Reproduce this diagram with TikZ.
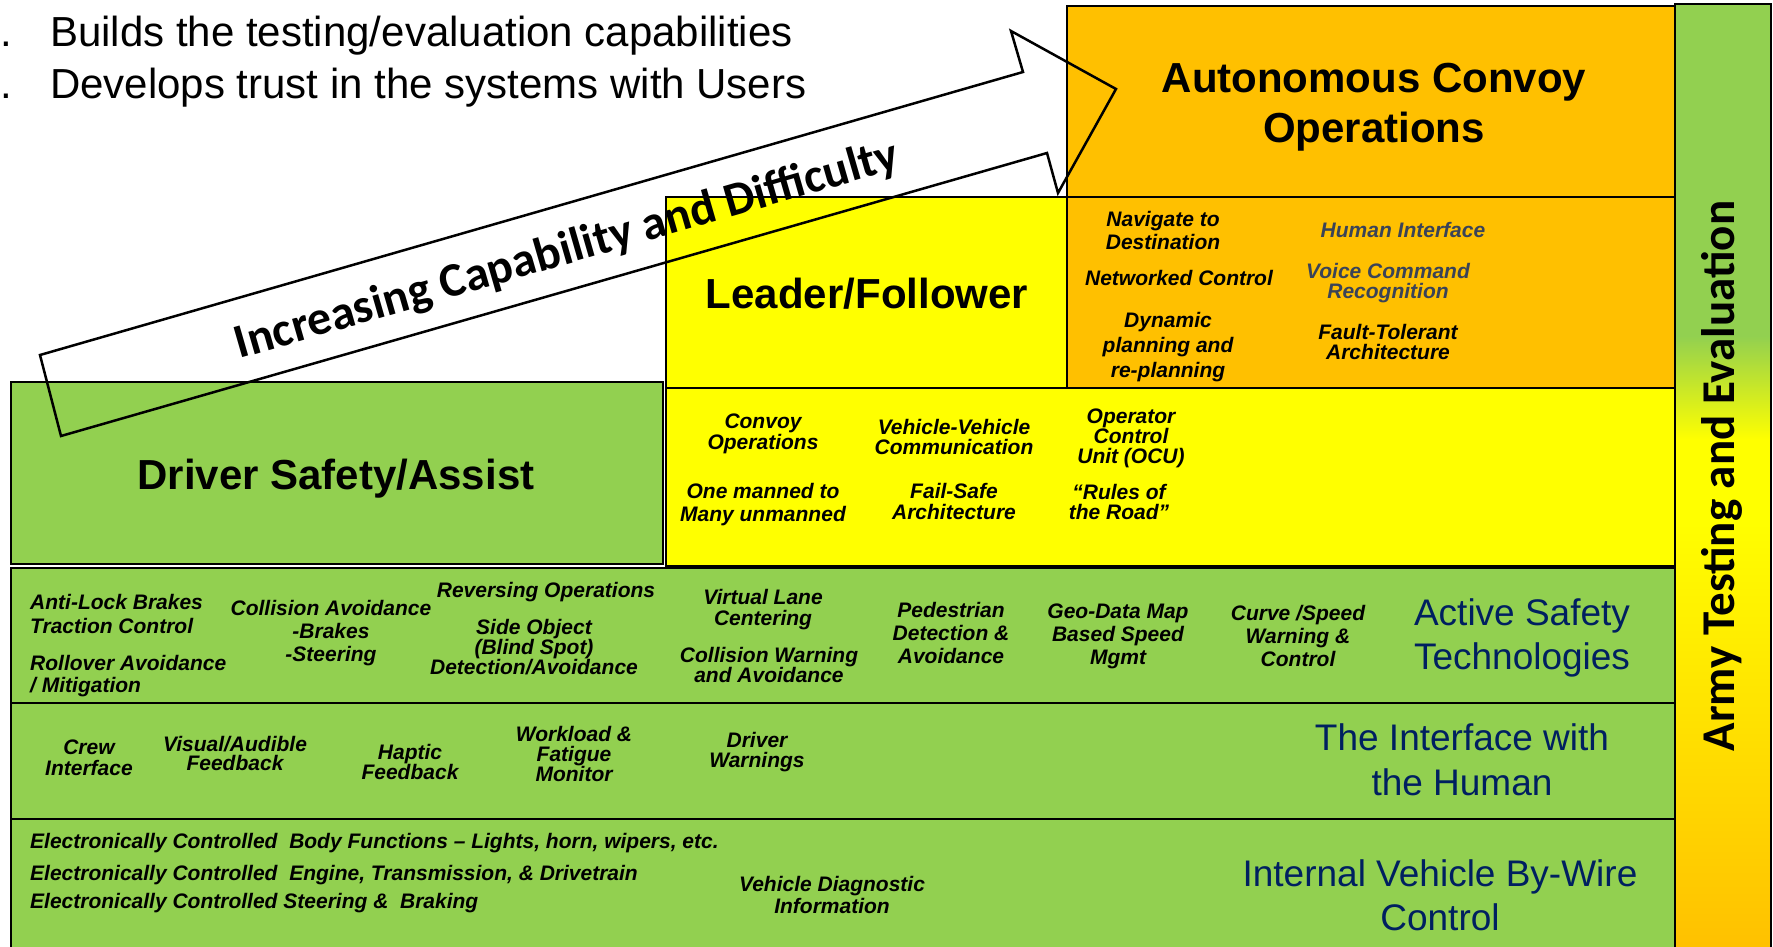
\documentclass[tikz,border=0pt]{standalone}
\usepackage{fontspec}
\setmainfont{Liberation Sans}
\newfontfamily\calibri{Carlito}
\definecolor{grn}{HTML}{92D050}
\definecolor{ylw}{HTML}{FFFF00}
\definecolor{org}{HTML}{FFC000}
\definecolor{navy}{HTML}{002060}
\definecolor{slate}{HTML}{3A4358}
\pgfdeclareverticalshading{armybar}{100bp}{color(0bp)=(org); color(25bp)=(org); color(48bp)=(ylw); color(52bp)=(ylw); color(57.5bp)=(grn); color(100bp)=(grn)}
\begin{document}
\begin{tikzpicture}[x=1pt,y=-1pt,
  box/.style={draw=black, line width=2.5pt},
  ttl/.style={font=\bfseries\fontsize{42}{50}\selectfont, align=center, inner sep=0pt},
  itm/.style={font=\bfseries\itshape\fontsize{21}{#1}\selectfont, align=center, inner sep=0pt},
  itm/.default=21,
  itml/.style={font=\bfseries\itshape\fontsize{21}{21}\selectfont, anchor=west, inner sep=0pt},
  lyr/.style={font=\fontsize{37}{#1}\selectfont, text=navy, align=center, inner sep=0pt},
  lyr/.default=44,
  hdr/.style={font=\fontsize{42}{50}\selectfont, anchor=base west, inner sep=0pt},
]
\useasboundingbox (0,0) rectangle (1773,946);
\clip (0,0) rectangle (1773,946);

% boxes
\path[box, fill=grn] (11,382) rectangle (663,564);
\path[box, fill=ylw] (666,197) rectangle (1067,388);
\path[box, fill=org] (1067,6) rectangle (1675,197);
\path[box, fill=org] (1067,197) rectangle (1675,388);
\path[box, fill=ylw] (666,388) rectangle (1675,566);
\path[box, fill=grn] (11,568) rectangle (1675,703);
\path[box, fill=grn] (11,703) rectangle (1675,819);
\path[box, fill=grn] (11,819) rectangle (1675,952);
\shadedraw[shading=armybar, draw=black, line width=2.5pt] (1675,4) rectangle (1771,952);

% header text
\node[hdr] (dot1) at (0,46) {.};
\node[hdr] (dot2) at (0,98) {.};
\node[hdr] (h1) at (50,46) {Builds the testing/evaluation capabilities};
\node[hdr] (h2) at (50,98) {Develops trust in the systems with Users};

% titles
\node[ttl] (auto) at (1374,107) {Autonomous Convoy\\Operations};
\node[ttl, anchor=base] (leader) at (867,308) {Leader/Follower};
\node[ttl, anchor=base] (driver) at (336,489) {Driver Safety/Assist};

% autonomous features
\node[itm=23] (nav) at (1163,230.5) {Navigate to\\Destination};
\node[itm] (net) at (1179,278) {Networked Control};
\node[itm=25] (dyn) at (1168,347) {Dynamic\\planning and\\re-planning};
\node[itm, text=slate] (humi) at (1403,230) {Human Interface};
\node[itm=20, text=slate] (voice) at (1388,283) {Voice Command\\Recognition};
\node[itm=20] (fault) at (1388,342) {Fault-Tolerant\\Architecture};

% leader/follower features
\node[itm] (cvy) at (763,433.5) {Convoy\\Operations};
\node[itm=20] (v2v) at (954,437) {Vehicle-Vehicle\\Communication};
\node[itm=20] (ocu) at (1131,438) {Operator\\Control\\Unit (OCU)};
\node[itm=23] (one) at (763,504.5) {One manned to\\Many unmanned};
\node[itm] (fs) at (954,501.5) {Fail-Safe\\Architecture};
\node[itm=20] (rules) at (1119,502) {“Rules of\\the Road”};

% active safety
\node[itml] (abs) at (30,602) {Anti-Lock Brakes};
\node[itml] (tc) at (30,626) {Traction Control};
\node[itml] (ro) at (30,663) {Rollover Avoidance};
\node[itml] (mit) at (30,687) {/ Mitigation};
\node[itm=23] (ca) at (331,633) {Collision Avoidance\\-Brakes\\-Steering};
\node[itm] (rev) at (546,592) {Reversing Operations};
\node[itm=20] (side) at (534,647.5) {Side Object\\(Blind Spot)\\Detection/Avoidance};
\node[itm] (vlc) at (763,609.5) {Virtual Lane\\Centering};
\node[itm=20] (cw) at (769,665) {Collision Warning\\and Avoidance};
\node[itm=23] (ped) at (951,633) {Pedestrian\\Detection \&\\Avoidance};
\node[itm=23] (geo) at (1118,636) {Geo-Data Map\\Based Speed\\Mgmt};
\node[itm=23] (curve) at (1298,636) {Curve /Speed\\Warning \&\\Control};
\node[lyr] (act) at (1522,638) {Active Safety\\Technologies};

% interface with the human
\node[itm] (crew) at (89,757.5) {Crew\\Interface};
\node[itm=19] (vis) at (235,753.5) {Visual/Audible\\Feedback};
\node[itm=20] (hap) at (410,762) {Haptic\\Feedback};
\node[itm=20] (wl) at (574,753.5) {Workload \&\\Fatigue\\Monitor};
\node[itm=20] (dw) at (757,752) {Driver\\Warnings};
\node[lyr=45] (ifh) at (1462,759.5) {The Interface with\\the Human};

% internal by-wire
\node[itml] (e1) at (30,843) {Electronically Controlled\ \ Body Functions – Lights, horn, wipers, etc.};
\node[itml] (e2) at (30,875) {Electronically Controlled\ \ Engine, Transmission, \& Drivetrain};
\node[itml] (e3) at (30,903) {Electronically Controlled Steering \&\ \ Braking};
\node[itm=22] (vd) at (832,894.5) {Vehicle Diagnostic\\Information};
\node[lyr] (ivw) at (1440,895) {Internal Vehicle By-Wire\\Control};

% army bar text
\node[font=\calibri\bfseries\fontsize{47}{47}\selectfont, rotate=90, inner sep=0pt] (army) at (1722,476) {Army Testing and Evaluation};

% big arrow
\draw[line width=2.5pt, line join=miter] (40,355) -- (1023,72) -- (1011,31) -- (1116,89) -- (1058,193) -- (1047,153) -- (61,436) -- cycle;
\node[font=\calibri\bfseries\fontsize{48}{48}\selectfont, rotate=16.1, inner sep=0pt] (incr) at (567,251) {Increasing Capability and Difficulty};
\end{tikzpicture}
\end{document}
